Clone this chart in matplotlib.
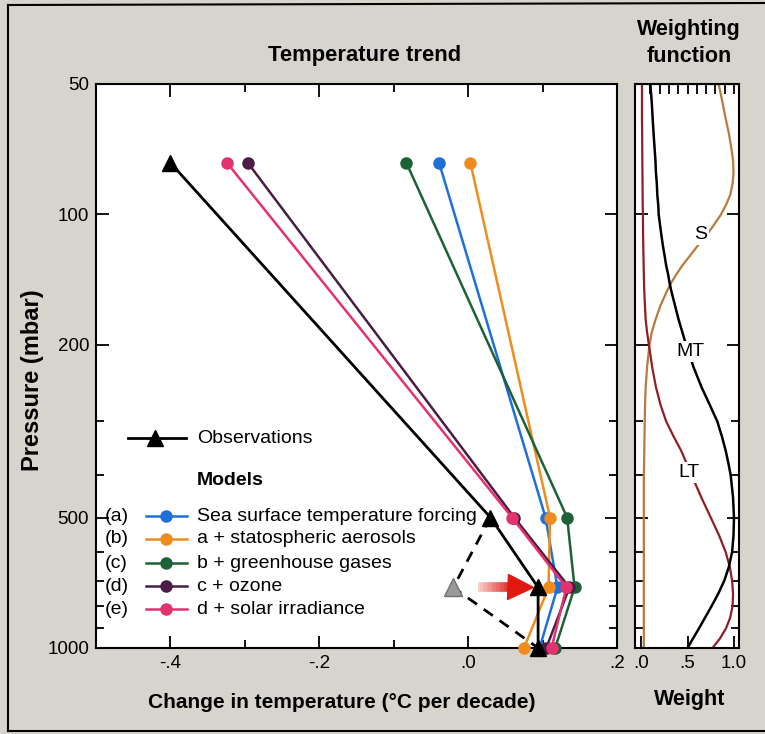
import matplotlib
matplotlib.use("Agg")
import matplotlib.pyplot as plt
from matplotlib.ticker import FixedLocator, NullFormatter, FixedFormatter
from matplotlib.lines import Line2D

plt.rcParams['font.family'] = ['Liberation Sans', 'DejaVu Sans']

# ---------------- data ----------------
levels = [76, 500, 725, 1000]               # pressure (mbar) of trend points
obs_trend = [-0.40, 0.030, 0.094, 0.094]    # observations (°C/decade)
alt_obs_level = 725
alt_obs_trend = -0.020                      # grey triangle (alternative obs)

model_keys = ['(a)', '(b)', '(c)', '(d)', '(e)']
model_names = ['Sea surface temperature forcing', 'a + statospheric aerosols',
               'b + greenhouse gases', 'c + ozone', 'd + solar irradiance']
model_colors = ['#1f6fd8', '#f08c1e', '#1d6236', '#4a1c46', '#e2336c']
trend_a = [-0.039, 0.104, 0.120, 0.096]
trend_b = [0.003, 0.110, 0.108, 0.075]
trend_c = [-0.083, 0.133, 0.143, 0.117]
trend_d = [-0.296, 0.062, 0.136, 0.105]
trend_e = [-0.324, 0.059, 0.132, 0.112]
model_trends = [trend_a, trend_b, trend_c, trend_d, trend_e]

# weighting functions
wlev = [50, 55, 60, 65, 70, 75, 80, 85, 90, 95, 100, 106, 112, 118, 125, 131,
        137, 143, 150, 162, 175, 187, 200, 225, 250, 275, 300, 325, 350, 375,
        400, 450, 500, 550, 600, 650, 700, 750, 800, 850, 900, 950, 1000]
w_S = [0.835, 0.875, 0.91, 0.945, 0.97, 0.99, 0.995, 0.985, 0.96, 0.915, 0.86,
       0.78, 0.70, 0.61, 0.52, 0.445, 0.385, 0.33, 0.28, 0.21, 0.155, 0.115,
       0.09, 0.065, 0.05, 0.043, 0.04, 0.037, 0.035, 0.033, 0.03, 0.03, 0.03,
       0.03, 0.03, 0.03, 0.03, 0.03, 0.03, 0.03, 0.03, 0.03, 0.03]
w_MT = [0.10, 0.115, 0.125, 0.135, 0.145, 0.155, 0.16, 0.17, 0.175, 0.185, 0.19,
        0.205, 0.22, 0.235, 0.255, 0.27, 0.29, 0.305, 0.325, 0.365, 0.405,
        0.445, 0.485, 0.565, 0.65, 0.74, 0.82, 0.87, 0.91, 0.94, 0.965, 0.99,
        1.0, 0.995, 0.98, 0.945, 0.895, 0.83, 0.76, 0.69, 0.625, 0.56, 0.50]
w_LT = [0.01, 0.01, 0.01, 0.012, 0.013, 0.014, 0.015, 0.016, 0.017, 0.018, 0.02,
        0.021, 0.022, 0.024, 0.026, 0.028, 0.03, 0.032, 0.035, 0.042, 0.05,
        0.065, 0.085, 0.12, 0.16, 0.21, 0.27, 0.35, 0.43, 0.49, 0.545, 0.65,
        0.75, 0.84, 0.91, 0.955, 0.98, 0.99, 0.985, 0.96, 0.915, 0.85, 0.77]
w_labels = ['S', 'MT', 'LT']
w_label_pos = [(0.64, 111), (0.53, 207), (0.52, 394)]

xticks_main = [-0.4, -0.2, 0.0, 0.2]
xticklabels_main = ['-.4', '-.2', '.0', '.2']
xminor_main = [-0.3, -0.1, 0.1]
yticks = [50, 100, 200, 500, 1000]
yticklabels = ['50', '100', '200', '500', '1000']
yminor = [300, 400, 600, 700, 800, 900]
wticks = [0.0, 0.5, 1.0]
wticklabels = ['.0', '.5', '1.0']
wtop_ticks = [0.1, 0.2, 0.3, 0.4, 0.5, 0.6, 0.7, 0.8, 0.9, 1.0]

# ---------------- figure ----------------
BG = '#d6d4cc'
fig = plt.figure(figsize=(7.65, 7.34), dpi=100, facecolor=BG)
W, H = 765, 734

def ax_rect(l, t, r, b):
    return [l / W, 1 - b / H, (r - l) / W, (b - t) / H]

ax = fig.add_axes(ax_rect(96, 84, 617, 648))
axw = fig.add_axes(ax_rect(635, 84, 739, 648))

for a in (ax, axw):
    a.set_facecolor('white')
    a.set_yscale('log')
    a.set_ylim(1000, 50)
    for s in a.spines.values():
        s.set_linewidth(1.5)

# main panel
ax.set_xlim(-0.5, 0.2)
for key, name, col, tr in zip(model_keys, model_names, model_colors, model_trends):
    ax.plot(tr, levels, '-', color=col, lw=1.8, marker='o', ms=8,
            mec=col, mfc=col, clip_on=False, zorder=3)

# dashed alternative observations
ax.plot([obs_trend[1], alt_obs_trend, obs_trend[3]],
        [levels[1], alt_obs_level, levels[3]], '--', color='black', lw=2,
        dashes=(4, 3), zorder=4, clip_on=False)
ax.plot([alt_obs_trend], [alt_obs_level], marker='^', ms=13, color='#9a9a9a',
        mec='#707070', zorder=5)
ax.plot(obs_trend, levels, '-', color='black', lw=2, marker='^', ms=12,
        zorder=6, clip_on=False)

# red arrow (gradient tail + head)
n = 14
x0, x1 = 0.013, 0.062
for i in range(n):
    xa = x0 + (x1 - x0) * i / n
    xb = x0 + (x1 - x0) * (i + 1) / n
    ax.plot([xa, xb], [alt_obs_level, alt_obs_level], color='#e01a10',
            lw=7, alpha=0.15 + 0.85 * (i + 1) / n, solid_capstyle='butt', zorder=5)
ax.plot([0.070], [alt_obs_level], marker='>', ms=18, color='#e01a10',
        mec='#e01a10', zorder=5)

ax.xaxis.set_major_locator(FixedLocator(xticks_main))
ax.xaxis.set_major_formatter(FixedFormatter(xticklabels_main))
ax.xaxis.set_minor_locator(FixedLocator(xminor_main))
ax.yaxis.set_major_locator(FixedLocator(yticks))
ax.yaxis.set_major_formatter(FixedFormatter(yticklabels))
ax.yaxis.set_minor_locator(FixedLocator(yminor))
ax.yaxis.set_minor_formatter(NullFormatter())
ax.tick_params(which='both', direction='in', top=True, right=True,
               width=1.3, labelsize=13.5, pad=5)
ax.tick_params(which='major', length=9)
ax.tick_params(which='minor', length=6)

# legend drawn by hand (axes fraction)
T = ax.transAxes
ax.add_line(Line2D([0.0614, 0.1727], [0.3723, 0.3723], color='black', lw=2,
                   transform=T))
ax.plot([0.1132], [0.3723], marker='^', ms=12, color='black', transform=T)
ax.text(0.194, 0.3723, 'Observations', transform=T, fontsize=14, va='center')
ax.text(0.194, 0.2961, 'Models', transform=T, fontsize=14, va='center',
        fontweight='bold')
ys = [0.234, 0.1933, 0.1507, 0.1099, 0.0691]
for yv, key, name, col in zip(ys, model_keys, model_names, model_colors):
    ax.text(0.017, yv, key, transform=T, fontsize=14, va='center')
    ax.add_line(Line2D([0.096, 0.1747], [yv, yv], color=col, lw=1.8, transform=T))
    ax.plot([0.134], [yv], marker='o', ms=8, color=col, transform=T)
    ax.text(0.194, yv, name, transform=T, fontsize=14, va='center')

# weighting panel
axw.set_xlim(-0.065, 1.054)
axw.plot(w_S, wlev, color='#b87a3e', lw=1.6)
axw.plot(w_LT, wlev, color='#8e1f22', lw=1.6)
axw.plot(w_MT, wlev, color='black', lw=1.8)
for lab, (xx, yy) in zip(w_labels, w_label_pos):
    axw.text(xx, yy, lab, fontsize=14, ha='center', va='center', zorder=5,
             bbox=dict(facecolor='white', edgecolor='none', pad=1.5))
axw.xaxis.set_major_locator(FixedLocator(wticks))
axw.xaxis.set_major_formatter(FixedFormatter(wticklabels))
axw.yaxis.set_major_locator(FixedLocator(yticks[1:-1]))
axw.yaxis.set_minor_locator(FixedLocator(yminor))
axw.yaxis.set_major_formatter(NullFormatter())
axw.yaxis.set_minor_formatter(NullFormatter())
axw.tick_params(which='both', direction='in', right=True, width=1.3,
                labelsize=13.5, pad=5)
axw.tick_params(which='major', length=9)
axw.tick_params(which='minor', length=6)
sec = axw.secondary_xaxis('top')
sec.set_xticks(wtop_ticks)
sec.set_xticklabels([])
sec.tick_params(direction='in', length=7, width=1.3)

# titles / labels
fig.text(365 / W, 1 - 56 / H, 'Temperature trend', ha='center', va='center',
         fontsize=15.8, fontweight='bold')
fig.text(689 / W, 1 - 30 / H, 'Weighting', ha='center', va='center',
         fontsize=15.5, fontweight='bold')
fig.text(689 / W, 1 - 56 / H, 'function', ha='center', va='center',
         fontsize=15.5, fontweight='bold')
fig.text(342 / W, 1 - 703 / H, 'Change in temperature (°C per decade)',
         ha='center', va='center', fontsize=15, fontweight='bold')
fig.text(690 / W, 1 - 700 / H, 'Weight', ha='center', va='center',
         fontsize=15.5, fontweight='bold')
fig.text(33 / W, 1 - 380 / H, 'Pressure (mbar)', ha='center', va='center',
         rotation=90, fontsize=17, fontweight='bold')

# frame of the figure
fig.add_artist(Line2D([8 / W, 8 / W], [1 - 731 / H, 1 - 5 / H], color='black',
                      lw=1.5, transform=fig.transFigure))
fig.add_artist(Line2D([8 / W, 1.0], [1 - 5 / H, 1 - 3 / H], color='black',
                      lw=1.5, transform=fig.transFigure))
fig.add_artist(Line2D([8 / W, 1.0], [1 - 731 / H, 1 - 731 / H], color='black',
                      lw=1.5, transform=fig.transFigure))

fig.savefig('out.png', dpi=100, facecolor=BG)
